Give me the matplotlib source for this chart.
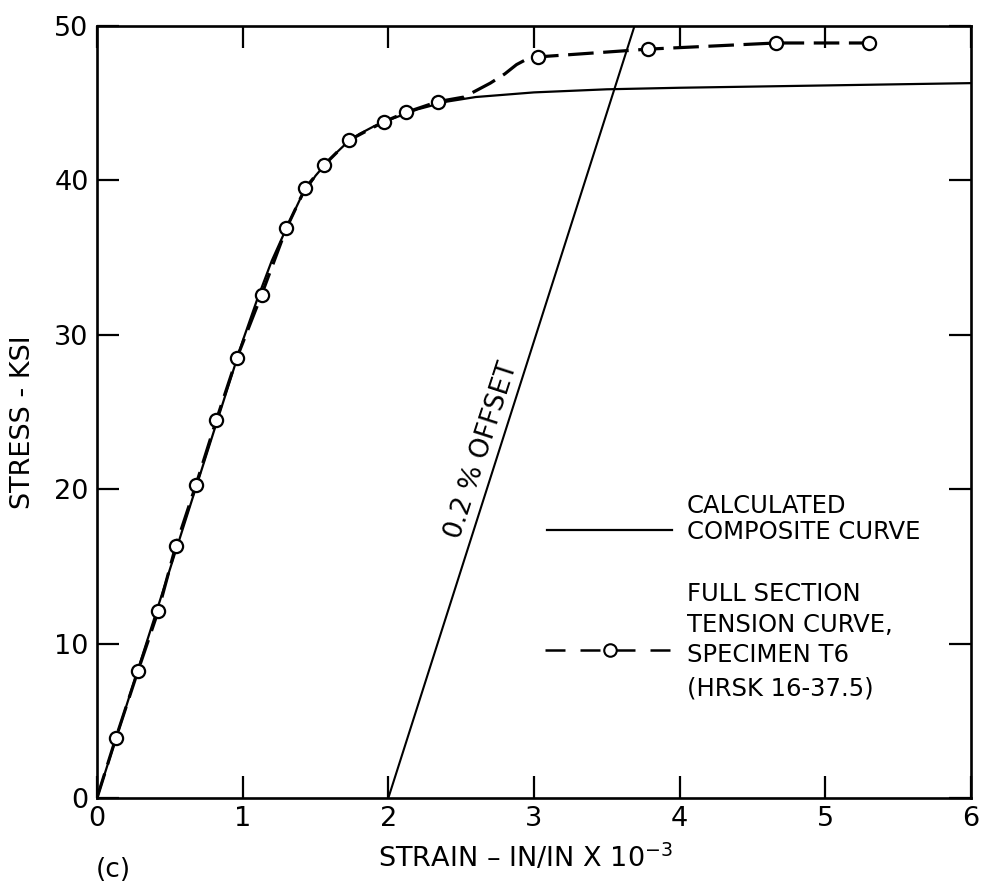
import matplotlib
matplotlib.use("Agg")
import matplotlib.pyplot as plt

# Calculated composite stress-strain curve (strain in 1e-3 in/in, stress in ksi)
composite_strain = [0.0, 1.00, 1.10, 1.20, 1.30, 1.40, 1.50, 1.60, 1.70, 1.80,
                    1.90, 2.00, 2.20, 2.40, 2.60, 3.00, 3.50, 4.00, 5.00, 6.00]
composite_stress = [0.0, 29.6, 32.3, 34.8, 36.9, 38.9, 40.3, 41.4, 42.3, 43.0,
                    43.5, 43.9, 44.6, 45.1, 45.4, 45.7, 45.9, 46.0, 46.15, 46.3]

# Full section tension test, specimen T6 (HRSK 16-37.5): measured points
test_strain = [0.13, 0.28, 0.42, 0.54, 0.68, 0.82, 0.96, 1.13, 1.30, 1.43,
               1.56, 1.73, 1.97, 2.12, 2.34, 3.03, 3.78, 4.66, 5.30]
test_stress = [3.9, 8.2, 12.1, 16.3, 20.3, 24.5, 28.5, 32.6, 36.9, 39.5,
               41.0, 42.6, 43.8, 44.4, 45.1, 48.0, 48.5, 48.9, 48.9]

# Faired dashed curve through the test points
fair_strain = [0.0, 0.13, 0.28, 0.42, 0.54, 0.68, 0.82, 0.96, 1.13, 1.30, 1.43,
               1.56, 1.73, 1.97, 2.12, 2.34, 2.52, 2.70, 2.80, 2.88, 2.95,
               3.03, 3.78, 4.66, 5.30]
fair_stress = [0.0, 3.9, 8.2, 12.1, 16.3, 20.3, 24.5, 28.5, 32.6, 36.9, 39.5,
               41.0, 42.6, 43.8, 44.4, 45.1, 45.4, 46.3, 46.9, 47.5, 47.85,
               48.0, 48.5, 48.9, 48.9]

# 0.2 % offset line
offset_strain = [2.0, 3.69]
offset_stress = [0.0, 50.0]

x_ticks = [0, 1, 2, 3, 4, 5, 6]
y_ticks = [0, 10, 20, 30, 40, 50]

plt.rcParams['font.family'] = ['DejaVu Sans']

W, H = 987, 885
fig = plt.figure(figsize=(W / 100, H / 100), dpi=100)
fig.patch.set_facecolor('white')
ax = fig.add_axes([97 / W, 87 / H, 874 / W, 772 / H])

ax.set_xlim(0, 6)
ax.set_ylim(0, 50)
ax.set_xticks(x_ticks)
ax.set_yticks(y_ticks)

for s in ax.spines.values():
    s.set_linewidth(1.9)

ax.tick_params(direction='in', length=16, width=1.6, top=True, right=True,
               labelsize=19.5, pad=6)

# curves
ax.plot(composite_strain, composite_stress, color='black', lw=1.6, zorder=2)
ax.plot(fair_strain, fair_stress, color='black', lw=2.3, dashes=(8, 3), zorder=3)
ax.plot(offset_strain, offset_stress, color='black', lw=1.5, zorder=2)
ax.plot(test_strain, test_stress, linestyle='none', marker='o', ms=9.5,
        mfc='white', mec='black', mew=1.6, zorder=5)

ax.text(2.64, 22.5, '0.2 % OFFSET', rotation=72, ha='center', va='center',
        rotation_mode='anchor', fontsize=19)

# key
ax.plot([0.515, 0.658], [0.347, 0.347], transform=ax.transAxes,
        color='black', lw=1.6)
ax.text(0.675, 0.378, 'CALCULATED', transform=ax.transAxes,
        ha='left', va='center', fontsize=17.5)
ax.text(0.675, 0.345, 'COMPOSITE CURVE', transform=ax.transAxes,
        ha='left', va='center', fontsize=17.5)

ax.plot([0.513, 0.658], [0.192, 0.192], transform=ax.transAxes,
        color='black', lw=1.8, dashes=(8, 6))
ax.plot([0.587], [0.192], transform=ax.transAxes, linestyle='none',
        marker='o', ms=9, mfc='white', mec='black', mew=1.5)
key_lines = ['FULL SECTION', 'TENSION CURVE,', 'SPECIMEN T6', '(HRSK 16-37.5)']
key_y = [0.264, 0.224, 0.185, 0.142]
for txt, yy in zip(key_lines, key_y):
    ax.text(0.675, yy, txt, transform=ax.transAxes, ha='left', va='center',
            fontsize=17.5)

# axis titles
fig.text(23 / W, 1 - 422 / H, 'STRESS - KSI', rotation=90, ha='center',
         va='center', fontsize=19.5)
fig.text(378 / W, 1 - 858 / H, 'STRAIN – IN/IN X 10$^{-3}$', ha='left',
         va='center', fontsize=19.5)
fig.text(113 / W, 1 - 870 / H, '(c)', ha='center', va='center', fontsize=19)

fig.savefig('out.png', dpi=100, facecolor='white')
